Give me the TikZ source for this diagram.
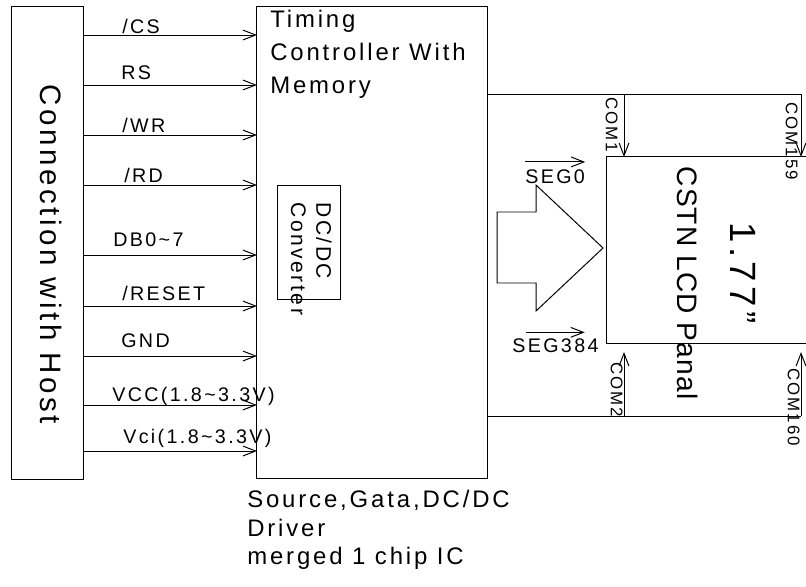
\documentclass[tikz,border=0pt]{standalone}
\usepackage{fontspec}
\setmainfont{Liberation Sans}[LetterSpace=12]
\newfontfamily\plainfont{Liberation Sans}[LetterSpace=4]
\usepackage{tikz}
\usetikzlibrary{arrows.meta,positioning,calc}
\definecolor{DrawBlack}{HTML}{000000}
\definecolor{PaperWhite}{HTML}{ffffff}
\tikzset{
    % Base box style
    basebox/.style={
        draw=DrawBlack,
        line width=0.7pt,
        inner sep=0pt,
        outer sep=0pt
    },
    % Host connector block
    hostbox/.style={
        basebox,
        minimum width=1.775cm,
        minimum height=11.8cm
    },
    % Driver IC block
    ctrlbox/.style={
        basebox,
        minimum width=5.75cm,
        minimum height=11.775cm
    },
    % DC/DC block
    dcbox/.style={
        basebox,
        minimum width=1.575cm,
        minimum height=2.825cm
    },
    % LCD panel (drawn open on the right)
    panelbox/.style={
        inner sep=0pt,
        outer sep=0pt,
        minimum width=4.975cm,
        minimum height=4.65cm
    },
    % Plain wire
    wire/.style={
        line width=0.7pt,
        draw=DrawBlack
    },
    % Signal arrow
    sig/.style={
        wire,
        -{Straight Barb[length=9pt,width=7pt]}
    },
    % Signal label
    lbl/.style={
        anchor=base west,
        inner sep=0pt,
        font=\fontsize{14}{16}\selectfont
    },
    % Rotated COM label
    vlbl/.style={
        rotate=-90,
        anchor=north west,
        inner sep=0pt,
        font=\fontsize{12}{14}\selectfont
    },
    % Rotated block text
    vtext/.style={
        rotate=-90,
        inner sep=0pt
    }
}

\begin{document}
\begin{tikzpicture}[x=0.025cm, y=-0.025cm]
        \useasboundingbox[fill=PaperWhite] (0,0) rectangle (806,586);

        % Blocks
        \node[hostbox] (host) at (47.5,243) {};
        \node[ctrlbox] (ctrl) at (372,242.5) {};
        \node[dcbox] (dcdc) at (308.5,242.5) {};
        \node[panelbox] (panel) at (706.5,250) {};
        \draw[wire] (panel.north east) -- (panel.north west) -- (panel.south west) -- (panel.south east);

        % Block texts
        \node[vtext, anchor=base, font=\fontsize{21}{24}\selectfont] (hosttxt) at (40,254) {Connection with Host};
        \node[anchor=north west, align=left, inner sep=0pt, font=\fontsize{17}{23.5}\selectfont] (ctrltxt) at (270,10) {Timing\\Controller With\\Memory};
        \node[vtext, anchor=north west, align=left, font=\fontsize{15}{18}\selectfont] (dctxt) at (332,202) {DC/DC\\Converter};
        \node[vtext, anchor=base, font=\plainfont\fontsize{20}{24}\selectfont] (paneltxt) at (677,283) {CSTN LCD Panal};
        \node[vtext, anchor=base, font=\fontsize{26}{30}\selectfont] (sizetxt) at (730,273) {1.77”};

        % Host signals
        \draw[sig] (host.east |- 0,35) -- (ctrl.west |- 0,35);
        \draw[sig] (host.east |- 0,85) -- (ctrl.west |- 0,85);
        \draw[sig] (host.east |- 0,135) -- (ctrl.west |- 0,135);
        \draw[sig] (host.east |- 0,185) -- (ctrl.west |- 0,185);
        \draw[sig] (host.east |- 0,255) -- (ctrl.west |- 0,255);
        \draw[sig] (host.east |- 0,306) -- (ctrl.west |- 0,306);
        \draw[sig] (host.east |- 0,356) -- (ctrl.west |- 0,356);
        \draw[sig] (host.east |- 0,405) -- (ctrl.west |- 0,405);
        \draw[sig] (host.east |- 0,451) -- (ctrl.west |- 0,451);

        \node[lbl] (cs) at (122,33) {/CS};
        \node[lbl] (rs) at (121,79) {RS};
        \node[lbl] (wr) at (122,132) {/WR};
        \node[lbl] (rd) at (124,182) {/RD};
        \node[lbl] (db) at (113,246) {DB0\textasciitilde 7};
        \node[lbl] (rst) at (122,300) {/RESET};
        \node[lbl] (gnd) at (121,347) {GND};
        \node[lbl] (vcc) at (112,401) {VCC(1.8\textasciitilde 3.3V)};
        \node[lbl] (vci) at (123,443) {Vci(1.8\textasciitilde 3.3V)};

        % COM lines
        \coordinate (c1) at (624,94);
        \coordinate (c159) at (801,94);
        \coordinate (c2) at (624,416);
        \coordinate (c160) at (801,416);
        \draw[wire] (ctrl.east |- c1) -- (c159);
        \draw[wire] (ctrl.east |- c2) -- (c160);
        \draw[sig] (c1) -- (c1 |- panel.north);
        \draw[sig] (c159) -- (c159 |- panel.north);
        \draw[sig] (c2) -- ([yshift=-6.4pt]c2 |- panel.south);
        \draw[sig] (c160) -- ([yshift=-6.4pt]c160 |- panel.south);

        \node[vlbl] (com1) at (618,97) {COM1};
        \node[vlbl] (com159) at (798,102) {COM159};
        \node[vlbl] (com2) at (623,362) {COM2};
        \node[vlbl] (com160) at (800,368) {COM160};

        % SEG bus
        \draw[wire] (497,212) -- (536,212) -- (536,185) -- (603,248) -- (536,311) -- (536,283) -- (497,283) -- cycle;
        \node[lbl] (seg0) at (525,183) {SEG0};
        \node[lbl] (seg384) at (512,352) {SEG384};
        \draw[sig] ([yshift=5pt]seg0.north west) -- ([yshift=5pt]seg0.north east);
        \draw[sig] ([xshift=10pt,yshift=4pt]seg384.north west) -- ([xshift=-10pt,yshift=4pt]seg384.north east);

        % Note
        \node[anchor=north west, align=left, inner sep=0pt, font=\fontsize{17}{20.3}\selectfont] (note) at (247,490) {Source,Gata,DC/DC\\Driver\\merged 1 chip IC};
    \end{tikzpicture}
\end{document}
